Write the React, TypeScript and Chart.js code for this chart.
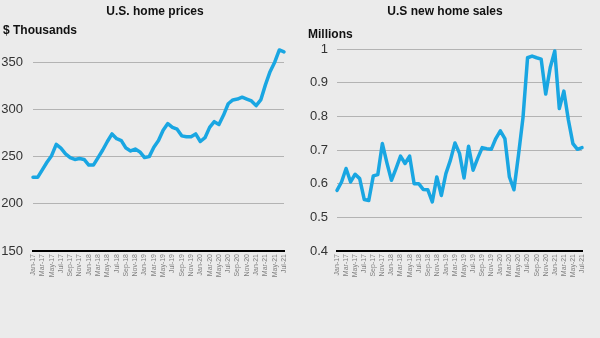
import { useEffect, useRef } from "react";
import { Chart, registerables } from "chart.js";

Chart.register(...registerables);

const months = [
  "Jan-17","Feb-17","Mar-17","Apr-17","May-17","Jun-17","Jul-17","Aug-17","Sep-17","Oct-17","Nov-17","Dec-17",
  "Jan-18","Feb-18","Mar-18","Apr-18","May-18","Jun-18","Jul-18","Aug-18","Sep-18","Oct-18","Nov-18","Dec-18",
  "Jan-19","Feb-19","Mar-19","Apr-19","May-19","Jun-19","Jul-19","Aug-19","Sep-19","Oct-19","Nov-19","Dec-19",
  "Jan-20","Feb-20","Mar-20","Apr-20","May-20","Jun-20","Jul-20","Aug-20","Sep-20","Oct-20","Nov-20","Dec-20",
  "Jan-21","Feb-21","Mar-21","Apr-21","May-21","Jun-21","Jul-21",
];

const homePrices = [
  228, 228, 236, 244, 251, 263, 259, 253, 249, 247, 248, 247,
  241, 241, 249, 257, 266, 274, 269, 267, 259, 256, 258, 255,
  249, 250, 260, 267, 278, 285, 281, 279, 272, 271, 271, 274,
  266, 270, 281, 287, 284, 294, 306, 310, 311, 313, 311, 309,
  304, 310, 326, 340, 350, 363, 361,
];

const homeSales = [
  0.58, 0.605, 0.645, 0.605, 0.628, 0.615, 0.553, 0.55, 0.623, 0.627, 0.719, 0.662,
  0.61, 0.645, 0.682, 0.66, 0.682, 0.6, 0.6, 0.583, 0.582, 0.546, 0.62, 0.565,
  0.63, 0.67, 0.721, 0.69, 0.617, 0.711, 0.64, 0.675, 0.707, 0.704, 0.702, 0.734,
  0.757, 0.734, 0.62, 0.582, 0.685, 0.797, 0.974, 0.979, 0.974, 0.97, 0.866, 0.945,
  0.994, 0.823, 0.875, 0.789, 0.719, 0.702, 0.707,
];

const priceTicks = [150, 200, 250, 300, 350];
const salesTicks = [0.4, 0.5, 0.6, 0.7, 0.8, 0.9, 1];

const FONT = "'Liberation Sans', Arial, sans-serif";
const LINE = "#19a6e2";

type Cfg = {
  title: string;
  titleX: number;
  unit: string;
  unitX: number;
  unitY: number;
  data: number[];
  min: number;
  max: number;
  ticks: number[];
  axisWidth: number;
  rightPad: number;
  labelPad: number;
};

function makeChart(canvas: HTMLCanvasElement, c: Cfg) {
  const textPlugin = {
    id: "texts" + c.title.length,
    afterDraw(chart: any) {
      const ctx = chart.ctx;
      ctx.save();
      ctx.fillStyle = "#111";
      ctx.font = `bold 12px ${FONT}`;
      ctx.textAlign = "center";
      ctx.textBaseline = "alphabetic";
      ctx.fillText(c.title, c.titleX, 15);
      ctx.textAlign = "left";
      ctx.fillText(c.unit, c.unitX, c.unitY);
      ctx.restore();
    },
  };
  return new Chart(canvas, {
    type: "line",
    data: {
      labels: months,
      datasets: [
        {
          data: c.data,
          borderColor: LINE,
          borderWidth: 3.5,
          pointRadius: 0,
          tension: 0,
          fill: false,
          clip: false as any,
          borderJoinStyle: "round",
          borderCapStyle: "round",
        },
      ],
    },
    options: {
      responsive: false,
      animation: false,
      layout: { padding: { top: 49, right: c.rightPad, bottom: 0, left: 0 } },
      plugins: { legend: { display: false }, tooltip: { enabled: false }, title: { display: false } },
      scales: {
        x: {
          offset: false,
          grid: { display: false, drawTicks: false },
          border: { display: true, color: "#000", width: 2 },
          afterFit: (s: any) => {
            s.height = 87;
          },
          ticks: {
            autoSkip: false,
            minRotation: 90,
            maxRotation: 90,
            padding: 3,
            color: "#808080",
            font: { family: FONT, size: 7 },
            callback: (_v: any, i: number) => (i % 2 === 0 ? months[i] : ""),
          },
        },
        y: {
          min: c.min,
          max: c.max,
          afterBuildTicks: (s: any) => {
            s.ticks = c.ticks.map((v) => ({ value: v }));
          },
          afterFit: (s: any) => {
            s.width = c.axisWidth;
          },
          grid: { color: "#b3b3b3", lineWidth: 1, drawTicks: false },
          border: { display: false },
          ticks: {
            padding: c.labelPad,
            color: "#333",
            font: { family: FONT, size: 13 },
            callback: (v: any) => String(Math.round(Number(v) * 10) / 10),
          },
        },
      },
    },
    plugins: [textPlugin],
  });
}

function Panel(props: { cfg: Cfg; left: number }) {
  const ref = useRef<HTMLCanvasElement | null>(null);
  useEffect(() => {
    if (!ref.current) return;
    const ch = makeChart(ref.current, props.cfg);
    return () => ch.destroy();
  }, []);
  return (
    <canvas
      ref={ref}
      width={300}
      height={338}
      style={{ position: "absolute", left: props.left, top: 0, width: 300, height: 338, display: "block" }}
    />
  );
}

export default function App() {
  const left: Cfg = {
    title: "U.S. home prices",
    titleX: 155,
    unit: "$ Thousands",
    unitX: 3,
    unitY: 34,
    data: homePrices,
    min: 150,
    max: 364,
    ticks: priceTicks,
    axisWidth: 33,
    rightPad: 16,
    labelPad: 10,
  };
  const right: Cfg = {
    title: "U.S new home sales",
    titleX: 145,
    unit: "Millions",
    unitX: 8,
    unitY: 38,
    data: homeSales,
    min: 0.4,
    max: 1.0,
    ticks: salesTicks,
    axisWidth: 37,
    rightPad: 18,
    labelPad: 9,
  };
  return (
    <div
      style={{
        position: "fixed",
        left: 0,
        top: 0,
        width: 600,
        height: 338,
        background: "#ebebeb",
        overflow: "hidden",
      }}
    >
      <Panel cfg={left} left={0} />
      <Panel cfg={right} left={300} />
    </div>
  );
}
